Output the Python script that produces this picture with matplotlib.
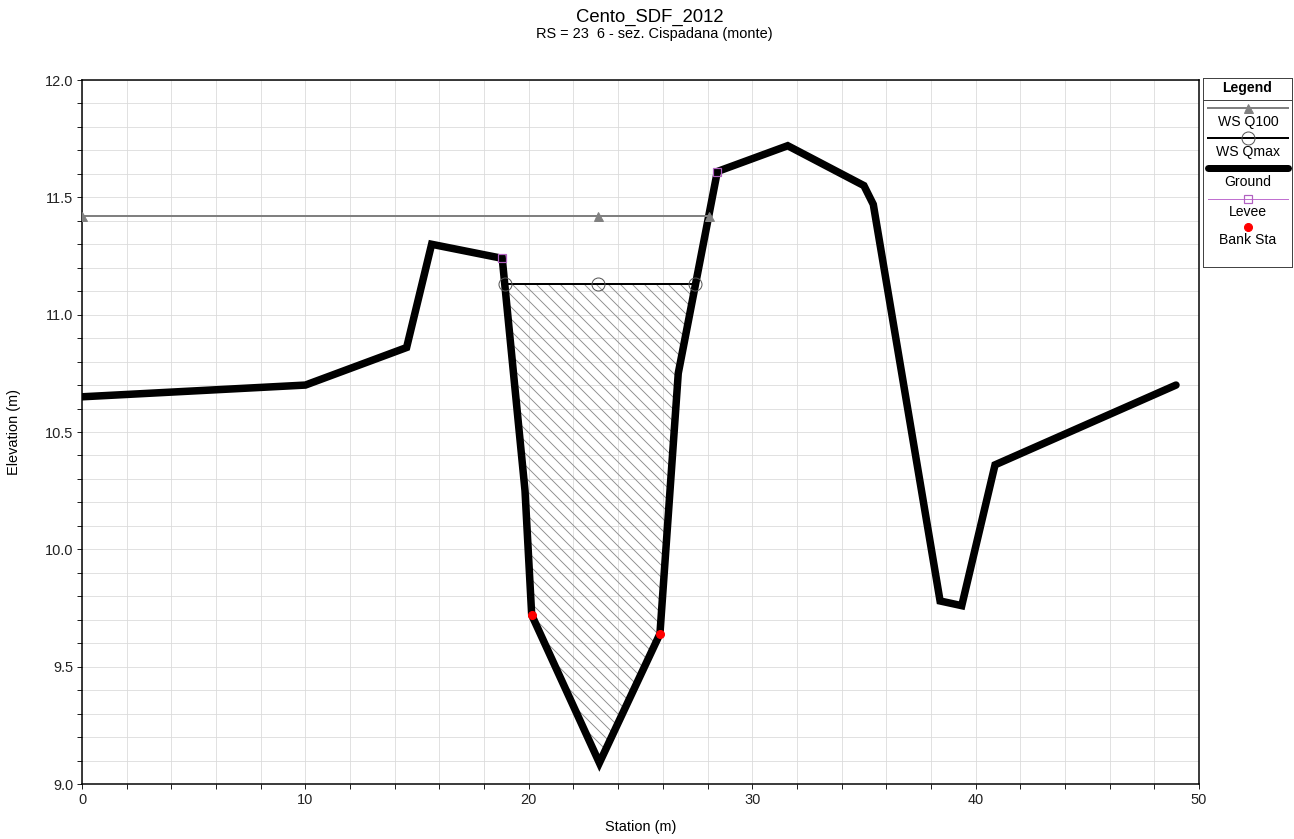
import matplotlib
matplotlib.use("Agg")
import matplotlib.pyplot as plt
from matplotlib.ticker import MultipleLocator, FormatStrFormatter
import numpy as np

plt.rcParams['font.family'] = ['Liberation Sans', 'DejaVu Sans']
plt.rcParams['hatch.linewidth'] = 0.9

# cross section data
ground_sta = [0.0, 10.0, 14.53, 15.65, 18.81, 19.83, 20.13, 23.16, 25.87, 26.69,
              28.44, 31.59, 35.0, 35.42, 38.41, 39.38, 40.87, 48.97]
ground_elev = [10.65, 10.70, 10.86, 11.30, 11.24, 10.25, 9.72, 9.09, 9.64, 10.75,
               11.61, 11.72, 11.55, 11.47, 9.78, 9.76, 10.36, 10.70]

ws_q100_sta = [0.0, 23.1, 28.07]
ws_q100_elev = [11.42, 11.42, 11.42]

ws_qmax_sta = [18.92, 23.1, 27.46]
ws_qmax_elev = [11.13, 11.13, 11.13]

levee_sta = [18.81, 28.44]
levee_elev = [11.24, 11.61]

bank_sta = [20.13, 25.87]
bank_elev = [9.72, 9.64]

W, H = 1294, 839
fig = plt.figure(figsize=(W / 72, H / 72), dpi=72)
ax = fig.add_axes([82 / W, 1 - 784 / H, (1199 - 82) / W, (784 - 80) / H])

# hatched water area of WS Qmax
sta = np.array(ground_sta)
elev = np.array(ground_elev)
wsel = ws_qmax_elev[0]
mask = (elev < wsel) & (sta > 15.65) & (sta < 31.59)
ax.fill_between(sta, elev, wsel, where=mask, interpolate=True,
                facecolor='none', edgecolor='#8c8c8c', hatch='\\\\', linewidth=0, zorder=2)

ax.plot(ground_sta, ground_elev, color='black', lw=7.5, solid_joinstyle='miter',
        solid_capstyle='round', zorder=3)

ax.plot(ws_q100_sta, ws_q100_elev, color='#808080', lw=2, marker='^', ms=9,
        mfc='#808080', mec='#808080', zorder=4)
ax.plot(ws_qmax_sta, ws_qmax_elev, color='black', lw=2, zorder=4)
ax.plot(ws_qmax_sta, ws_qmax_elev, ls='none', marker='o', ms=13, mfc='none',
        mec='#555555', mew=1, zorder=5)
ax.plot(levee_sta, levee_elev, ls='none', marker='s', ms=8, mfc='none',
        mec='#b060c0', mew=1.2, zorder=5)
ax.plot(bank_sta, bank_elev, ls='none', marker='o', ms=8, mfc='red', mec='red', zorder=6)

ax.set_xlim(0, 50)
ax.set_ylim(9.0, 12.0)
ax.xaxis.set_major_locator(MultipleLocator(10))
ax.xaxis.set_minor_locator(MultipleLocator(2))
ax.yaxis.set_major_locator(MultipleLocator(0.5))
ax.yaxis.set_minor_locator(MultipleLocator(0.1))
ax.yaxis.set_major_formatter(FormatStrFormatter('%.1f'))
ax.tick_params(which='both', direction='out', length=5, width=1, colors='#222222',
               labelsize=14.5)
ax.grid(which='both', color='#dadada', lw=0.8)
ax.set_axisbelow(True)
for s in ax.spines.values():
    s.set_linewidth(1.5)
    s.set_color('black')

ax.set_xlabel('Station (m)', fontsize=14.5)
ax.xaxis.set_label_coords(0.5, -(820 - 784) / 704)
ax.set_ylabel('Elevation (m)', fontsize=14.5)
ax.yaxis.set_label_coords((21 - 82) / 1117, 0.5)

fig.text(650 / W, 1 - 17 / H, 'Cento_SDF_2012', ha='center', va='center', fontsize=18.5)
fig.text(654 / W, 1 - 34 / H, 'RS = 23  6 - sez. Cispadana (monte)', ha='center',
         va='center', fontsize=14.5)

# legend box drawn as its own small axes
lax = fig.add_axes([1203 / W, 1 - 267 / H, 89 / W, 189 / H])
lax.set_xlim(0, 89)
lax.set_ylim(189, 0)
lax.set_xticks([])
lax.set_yticks([])
for s in lax.spines.values():
    s.set_linewidth(1)
    s.set_color('#444444')
lax.text(44.5, 10.5, 'Legend', ha='center', va='center', fontsize=14, fontweight='bold')
lax.plot([0, 89], [22, 22], color='#444444', lw=1)
lx = [5, 85]
lax.plot(lx, [30.5, 30.5], color='#808080', lw=2)
lax.plot([45], [30.5], marker='^', ms=9, color='#808080')
lax.text(45, 44, 'WS Q100', ha='center', va='center', fontsize=14)
lax.plot(lx, [60, 60], color='black', lw=2)
lax.plot([45], [60], marker='o', ms=13, mfc='none', mec='#555555', mew=1)
lax.text(45, 74.5, 'WS Qmax', ha='center', va='center', fontsize=14)
lax.plot(lx, [90.5, 90.5], color='black', lw=7, solid_capstyle='round')
lax.text(45, 104.5, 'Ground', ha='center', va='center', fontsize=14)
lax.plot(lx, [121, 121], color='#c070d0', lw=1)
lax.plot([45], [121], marker='s', ms=8, mfc='none', mec='#b060c0', mew=1.2)
lax.text(45, 134, 'Levee', ha='center', va='center', fontsize=14)
lax.plot([45], [149], marker='o', ms=8, mfc='red', mec='red')
lax.text(45, 162, 'Bank Sta', ha='center', va='center', fontsize=14)

fig.savefig('out.png', dpi=72)
